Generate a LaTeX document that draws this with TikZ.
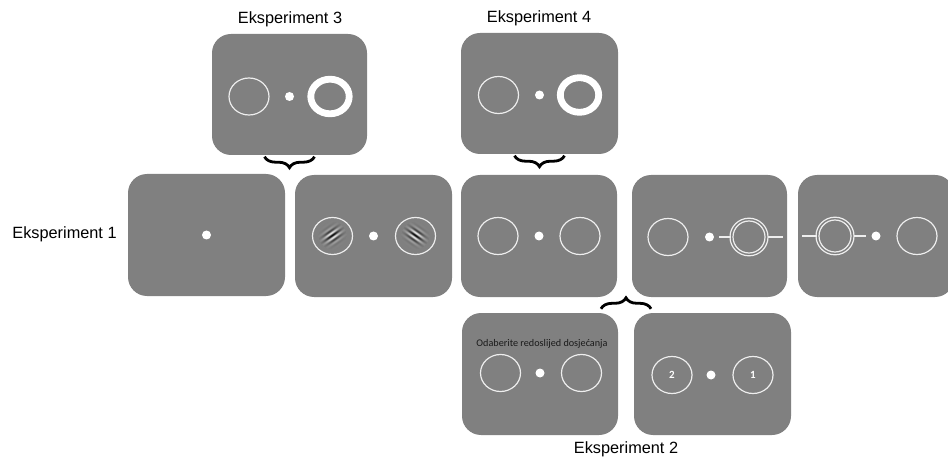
\documentclass[tikz,border=0pt]{standalone}
\usepackage{fontspec}
\setmainfont{Liberation Sans}
\newfontfamily\carl{Carlito}
\usetikzlibrary{decorations.pathreplacing,calc}
\definecolor{panelgray}{HTML}{808080}
\definecolor{ringcol}{HTML}{EEEEEE}
\definecolor{instr}{HTML}{1A1A1A}
\tikzset{
  panel/.style={fill=panelgray, draw=none, rounded corners=19pt, inner sep=0pt,
                minimum width=157pt, minimum height=122pt},
  explabel/.style={font=\fontsize{16.3}{18}\selectfont, anchor=base, inner sep=0pt},
  thinring/.style={draw=ringcol, line width=1.2pt},
  bracestyle/.style={decorate, decoration={brace, amplitude=11pt}, line width=2.8pt, draw=black},
  numstyle/.style={font=\carl\bfseries\fontsize{11}{12}\selectfont, text=white, inner sep=0pt},
  pics/stimring/.style={code={\draw[thinring] (0,0) ellipse [x radius=20pt, y radius=18.5pt];}},
  pics/stimdot/.style={code={\fill[white] (0,0) circle [radius=4.5pt];}},
  pics/thickring/.style={code={\draw[white, line width=6.8pt] (0,0) ellipse [x radius=19.2pt, y radius=17.3pt];}},
  pics/doublering/.style 2 args={code={
      \draw[thinring] (0,0) ellipse [x radius=19pt, y radius=18.8pt];
      \draw[thinring] (0,0) ellipse [x radius=16pt, y radius=16pt];
      \draw[thinring] (#1,0) -- (-18.5,0);
      \draw[thinring] (18.5,0) -- (#2,0);}},
  pics/gabor/.style={code={
      \fill[panelgray] (0,0) ellipse [x radius=20pt, y radius=18.5pt];
      \foreach \i in {-14,...,14}{
        \foreach \j in {-14,...,14}{
          \pgfmathsetmacro\rr{\i*\i+\j*\j}
          \ifdim\rr pt<200pt
            \pgfmathsetmacro\uu{\i*cos(#1)+\j*sin(#1)}
            \pgfmathsetmacro\ww{-\i*sin(#1)+\j*cos(#1)}
            \pgfmathsetmacro\vv{50+46*exp(-(\uu*\uu)/36-(\ww*\ww)/70)*cos(360*\uu/4.8+180)}
            \fill[white!\vv!black] (\i-0.5,\j-0.5) rectangle (\i+0.55,\j+0.55);
          \fi
        }
      }
      \draw[thinring] (0,0) ellipse [x radius=20pt, y radius=18.5pt];}},
}
\begin{document}
\begin{tikzpicture}[x=1pt, y=1pt]
\fill[white] (0,0) rectangle (948,-457);
\useasboundingbox (0,0) rectangle (948,-457);

% panels
\node[panel, minimum width=155pt, minimum height=121pt] (e3) at (289.5,-94.5) {};
\node[panel, minimum height=121pt] (e4) at (539.5,-93.5) {};
\node[panel] (p1) at (206.5,-235) {};
\node[panel] (p2) at (373.5,-236) {};
\node[panel, minimum width=156pt] (p3) at (539,-236) {};
\node[panel, minimum width=155pt] (p4) at (709.5,-236) {};
\node[panel, minimum width=156pt] (p5) at (876,-236) {};
\node[panel, minimum width=156pt] (b1) at (540,-374) {};
\node[panel] (b2) at (712.5,-374) {};

% labels
\node[explabel] (l3) at (290,-24) {Eksperiment 3};
\node[explabel] (l4) at (539,-23) {Eksperiment 4};
\node[explabel] (l1) at (64.5,-239) {Eksperiment 1};
\node[explabel] (l2) at (626,-453) {Eksperiment 2};

% Experiment 3 top panel
\pic at ($(e3.center)+(-40.5,-2)$) {stimring};
\pic at ($(e3.center)+(0,-2)$) {stimdot};
\pic at ($(e3.center)+(40.5,-2)$) {thickring};

% Experiment 4 top panel
\pic at ($(e4.center)+(-41,-1.5)$) {stimring};
\pic at ($(e4.center)+(0,-1.5)$) {stimdot};
\pic at ($(e4.center)+(40,-1.5)$) {thickring};

% row 1
\pic at (p1.center) {stimdot};

\pic at ($(p2.center)+(-41,0)$) {gabor=-55};
\pic at ($(p2.center)+(0,0)$) {stimdot};
\pic at ($(p2.center)+(42,0)$) {gabor=55};

\pic at ($(p3.center)+(-41,0)$) {stimring};
\pic at ($(p3.center)+(0,0)$) {stimdot};
\pic at ($(p3.center)+(41,0)$) {stimring};

\pic at ($(p4.center)+(-41.5,-1)$) {stimring};
\pic at ($(p4.center)+(0,-1)$) {stimdot};
\pic at ($(p4.center)+(39.5,-1)$) {doublering={-30}{34}};

\pic at ($(p5.center)+(-41,0)$) {doublering={-33}{31}};
\pic at ($(p5.center)+(0,0)$) {stimdot};
\pic at ($(p5.center)+(41,0)$) {stimring};

% bottom row
\node[font=\carl\fontsize{10.2}{12}\selectfont, text=instr, anchor=base, inner sep=0pt] (instr) at (542,-346) {Odaberite redoslijed dosjećanja};
\pic at ($(b1.center)+(-39.5,1)$) {stimring};
\pic at ($(b1.center)+(0,1)$) {stimdot};
\pic at ($(b1.center)+(41.5,1)$) {stimring};

\pic at ($(b2.center)+(-40.5,-1)$) {stimring};
\pic at ($(b2.center)+(-1.5,-1)$) {stimdot};
\pic at ($(b2.center)+(40.5,-1)$) {stimring};
\node[numstyle] (n2) at ($(b2.center)+(-40.5,-1)$) {2};
\node[numstyle] (n1) at ($(b2.center)+(40.5,-1)$) {1};

% braces
\draw[bracestyle] ($(e3.south)+(25,-1.5)$) -- ($(e3.south)+(-25,-1.5)$);
\draw[bracestyle] ($(e4.south)+(25,-1.5)$) -- ($(e4.south)+(-25,-1.5)$);
\coordinate (gapmid) at ($(b1.north east)!0.5!(b2.north west)$);
\draw[bracestyle] ($(gapmid)+(-25,4)$) -- ($(gapmid)+(25,4)$);
\end{tikzpicture}
\end{document}
